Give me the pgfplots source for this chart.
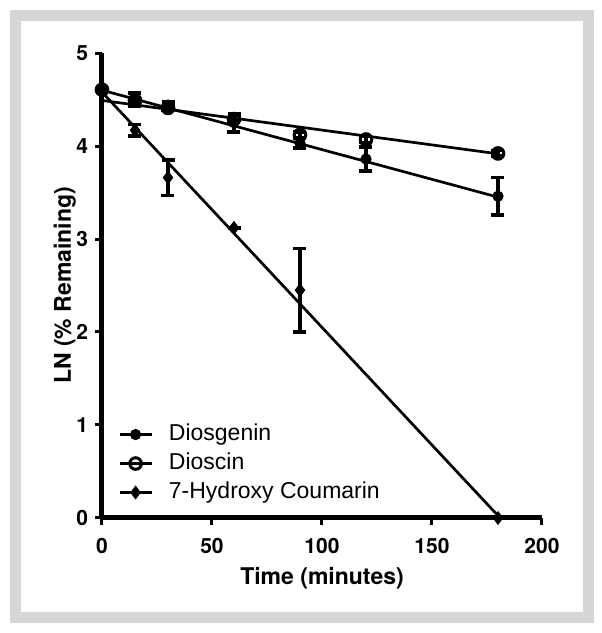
\documentclass[border=0pt]{standalone}
\usepackage{pgfplots}
\pgfplotsset{compat=1.18}
\usepackage{fontspec}
\setmainfont{Liberation Sans}
\newfontfamily\heavy{TeX Gyre Heros}
\definecolor{framegray}{RGB}{214,214,214}

\pgfplotstableread{
t   v     e
0   4.605 0
15  4.50  0.07
30  4.44  0.04
60  4.25  0.10
90  4.03  0.05
120 3.86  0.13
180 3.46  0.20
}\diosgenin

\pgfplotstableread{
t   v     e
0   4.605 0
15  4.49  0.03
30  4.41  0.03
60  4.29  0.04
90  4.12  0.03
120 4.07  0.03
180 3.92  0.03
}\dioscin

\pgfplotstableread{
t   v     e
0   4.605 0
15  4.17  0.06
30  3.66  0.19
60  3.12  0
90  2.45  0.45
180 0.00  0
}\hydroxy

\begin{document}
\begin{tikzpicture}
\begin{axis}[
    at={(0,0)}, anchor=south west,
    scale only axis,
    width=220pt, height=232.5pt,
    xmin=0, xmax=200, ymin=0, ymax=5,
    axis x line*=bottom, axis y line*=left,
    axis line style={line width=2.5pt},
    xtick={0,50,...,200}, ytick={0,1,...,5},
    tick align=outside, major tick length=3.5pt,
    tick style={line width=1.5pt, black},
    /pgf/number format/assume math mode=true,
    ticklabel style={font=\heavy\bfseries\fontsize{10.5}{11}\selectfont},
    xticklabel style={yshift=-3pt},
    xlabel={Time (minutes)},
    ylabel={LN (\% Remaining)},
    every axis x label/.style={at={(axis description cs:0.5,-0.144)}, anchor=base,
        font=\heavy\bfseries\fontsize{11.5}{13}\selectfont},
    every axis y label/.style={at={(axis description cs:-0.0705,0.5)}, rotate=90, anchor=base,
        font=\heavy\bfseries\fontsize{11.5}{13}\selectfont},
    clip=false,
    legend style={draw=none, fill=none, inner sep=0pt,
        at={(axis description cs:0.036,0.204)}, anchor=north west,
        nodes={inner sep=0pt, text height=8.5pt, text depth=2.5pt},
        column sep=8pt, row sep=3.5pt,
        font=\fontsize{11.5}{13}\selectfont},
    legend cell align=left,
    legend image code/.code={
        \draw[line width=1.35pt, black] (0pt,0pt) -- (16pt,0pt);
        \draw[#1] plot coordinates {(8pt,0pt)};
    },
    error bars/y dir=both, error bars/y explicit,
    error bars/error bar style={line width=1.75pt, black},
    error bars/error mark options={line width=1.75pt, mark size=3.25pt, rotate=90, black},
]

% fitted lines
\addplot[black, line width=1.35pt, forget plot] coordinates {(0,4.60) (180,3.45)};
\addplot[black, line width=1.35pt, forget plot] coordinates {(0,4.49) (180,3.916)};
\addplot[black, line width=1.35pt, forget plot] coordinates {(0,4.58) (181,0)};

% measured points
\addplot[only marks, mark=*, mark size=2.6pt, black]
    table[x=t, y=v, y error=e] {\diosgenin};
\addplot[only marks, mark=o, mark size=2.9pt, black,
    mark options={line width=1.5pt, fill=white}]
    table[x=t, y=v, y error=e] {\dioscin};
\addplot[only marks, mark=diamond*, mark size=3.2pt, black]
    table[x=t, y=v, y error=e] {\hydroxy};

\legend{Diosgenin, Dioscin, 7-Hydroxy Coumarin}
\end{axis}

\draw[framegray, line width=5.5pt] (-43.25pt,-49.75pt) rectangle (243pt,251.25pt);
\path (-51pt,-57.5pt) rectangle (249.5pt,259pt);
\end{tikzpicture}
\end{document}
